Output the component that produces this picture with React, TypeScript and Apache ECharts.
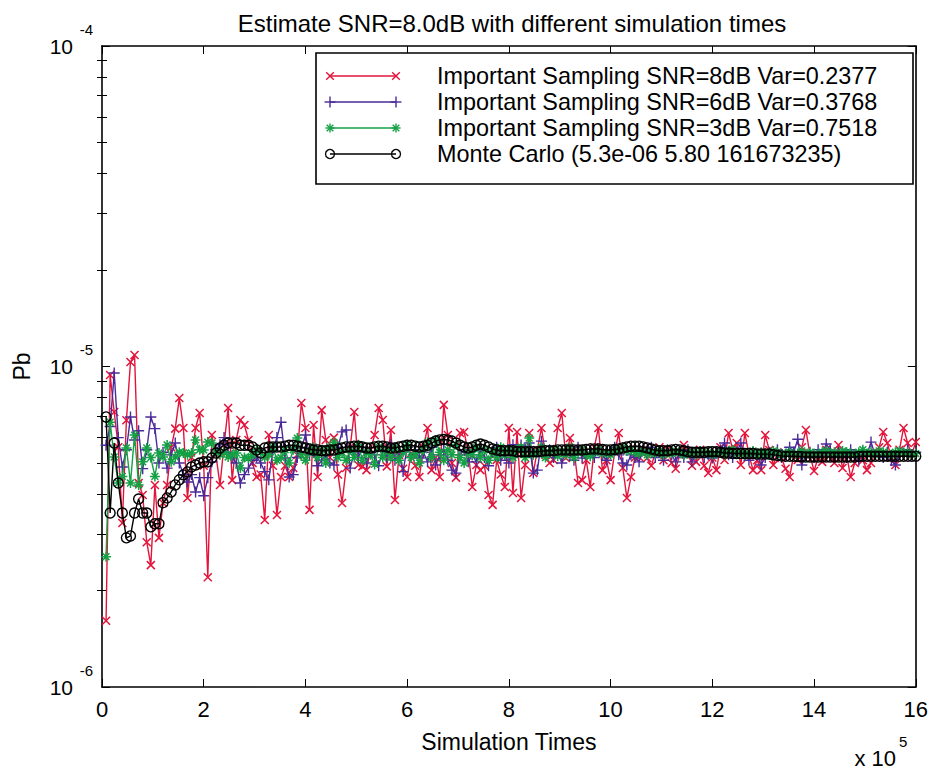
import React, { useEffect, useRef } from 'react';
import * as echarts from 'echarts';

// Simulation times: one sample every 8000 runs (x axis shown in units of 1e5)
const STEP = 8000;
const X_MAX = 1600000;
const X_INTERVAL = 200000;

// Pb values in units of 1e-6
const is8dB = [
  1.61, 9.41, 7.21, 5.6, 3.25, 6.8, 10.33, 10.86, 4.33, 3.97,
  2.83, 2.40, 4.27, 2.92, 3.75, 4.27, 5.6, 6.4, 7.97, 6.43,
  3.89, 5.2, 6.43, 7.16, 4.9, 2.20, 6.11, 5.3, 4.27, 5.7,
  7.42, 4.42, 5.9, 6.81, 6.57, 5.90, 5.0, 4.52, 4.6, 3.32,
  6.11, 4.9, 3.44, 4.52, 4.9, 4.52, 4.82, 5.3, 7.69, 6.43,
  3.57, 6.57, 4.52, 7.31, 5.90, 5.2, 6.0, 4.6, 3.75, 4.82,
  5.6, 7.21, 4.93, 4.88, 4.75, 5.5, 6.11, 7.42, 6.81, 4.88,
  6.34, 3.83, 5.30, 4.8, 4.52, 5.37, 4.9, 4.52, 5.6, 6.43,
  4.75, 5.2, 4.52, 7.59, 6.11, 5.0, 4.50, 6.20, 6.25, 5.42,
  4.21, 4.93, 4.75, 4.9, 3.97, 3.70, 5.11, 4.6, 4.21, 6.43,
  4.03, 6.25, 3.89, 4.93, 6.20, 4.65, 5.49, 6.43, 5.30, 5.0,
  5.11, 6.43, 7.16, 5.18, 5.98, 5.5, 4.33, 4.42, 5.11, 4.21,
  5.6, 6.43, 4.75, 5.1, 4.42, 5.4, 6.20, 4.82, 3.89, 4.52,
  5.2, 5.22, 5.5, 5.18, 4.9, 5.37, 5.6, 5.1, 5.5, 5.0,
  4.8, 5.3, 5.69, 5.4, 4.9, 5.04, 5.5, 4.9, 4.65, 5.2,
  4.75, 5.6, 5.11, 6.20, 5.5, 5.77, 4.93, 6.20, 5.30, 4.75,
  5.1, 4.75, 6.11, 5.49, 4.93, 5.4, 5.18, 4.8, 4.52, 5.3,
  5.11, 5.6, 6.34, 5.30, 4.72, 5.2, 5.04, 5.5, 5.30, 5.0,
  5.69, 4.82, 5.3, 4.52, 5.0, 5.37, 5.1, 4.75, 5.0, 5.37,
  5.6, 6.25, 5.77, 5.2, 4.93, 5.5, 6.43, 5.77, 5.3, 5.81,
];

const is6dB = [
  5.68, 6.5, 9.54, 6.0, 4.86, 5.5, 6.96, 5.90, 6.3, 4.80,
  5.5, 6.96, 6.4, 5.0, 5.4, 4.82, 5.3, 5.77, 5.0, 4.6,
  4.36, 4.6, 4.06, 4.5, 3.95, 4.5, 5.04, 5.5, 5.7, 6.0,
  5.4, 5.2, 5.0, 4.33, 4.6, 4.82, 5.1, 5.22, 5.0, 4.7,
  4.43, 5.5, 6.0, 6.7, 5.18, 4.52, 4.6, 5.2, 5.57, 6.11,
  5.3, 5.4, 4.9, 5.1, 5.3, 5.0, 4.93, 5.6, 6.25, 6.34,
  4.82, 5.4, 5.2, 5.6, 5.0, 5.4, 5.3, 4.9, 5.5, 5.2,
  5.7, 5.1, 5.3, 4.7, 5.6, 5.2, 5.5, 5.18, 5.4, 5.04,
  5.6, 4.93, 5.3, 5.49, 5.1, 4.75, 4.65, 5.3, 5.5, 5.04,
  5.3, 5.04, 5.5, 5.2, 4.9, 5.4, 5.6, 5.1, 5.3, 5.0,
  5.7, 5.4, 5.69, 5.49, 5.77, 4.65, 4.75, 5.85, 5.3, 5.5,
  5.2, 5.4, 5.0, 5.5, 5.3, 5.1, 5.6, 5.18, 5.3, 5.4,
  5.2, 5.5, 5.3, 5.1, 5.4, 5.6, 5.3, 5.0, 4.93, 5.3,
  5.2, 5.04, 5.5, 5.3, 5.6, 5.2, 5.4, 5.1, 5.5, 5.3,
  5.04, 5.4, 5.2, 5.5, 5.04, 5.3, 5.4, 5.2, 5.3, 5.18,
  5.4, 5.5, 5.77, 5.3, 5.2, 5.4, 5.77, 5.3, 5.1, 5.4,
  5.3, 4.93, 5.2, 5.4, 5.3, 5.5, 5.2, 5.3, 5.6, 5.4,
  5.93, 4.93, 5.3, 5.4, 5.2, 5.5, 5.3, 5.73, 5.49, 5.2,
  5.4, 5.3, 5.2, 5.5, 5.3, 5.1, 5.4, 5.3, 5.81, 5.3,
  5.3, 5.2, 5.4, 5.1, 4.93, 5.4, 5.37, 5.5, 5.3, 5.4,
];

const is3dB = [
  2.55, 6.7, 5.22, 4.33, 4.54, 5.57, 4.33, 6.11, 4.27, 5.04,
  5.57, 5.2, 4.54, 5.37, 5.22, 5.69, 5.04, 5.22, 5.4, 5.37,
  5.3, 5.37, 5.90, 5.5, 5.49, 5.81, 5.77, 5.4, 5.30, 5.42,
  5.22, 5.3, 5.37, 4.82, 5.2, 5.18, 5.30, 5.5, 5.4, 5.2,
  5.3, 5.6, 5.1, 5.2, 5.5, 5.0, 5.5, 5.98, 5.3, 5.1,
  5.4, 5.6, 5.2, 5.5, 5.0, 5.6, 5.8, 5.2, 5.4, 5.1,
  5.5, 5.2, 5.7, 5.1, 5.4, 5.3, 4.95, 5.6, 5.2, 5.5,
  5.2, 5.6, 5.1, 5.4, 5.7, 5.2, 5.35, 5.0, 5.5, 5.8,
  5.2, 5.9, 5.4, 5.1, 5.5, 5.3, 5.7, 5.2, 5.0, 5.4,
  5.3, 5.6, 5.2, 5.5, 5.1, 5.45, 5.2, 5.6, 5.3, 5.5,
  5.2, 5.5, 5.6, 5.2, 5.98, 5.3, 5.4, 5.6, 5.2, 5.4,
  5.5, 5.25, 5.45, 5.3, 5.6, 5.2, 5.4, 5.5, 5.3, 5.25,
  5.4, 5.5, 5.35, 5.4, 5.3, 5.45, 5.5, 5.6, 5.45, 5.5,
  5.4, 5.35, 5.45, 5.3, 5.4, 5.35, 5.45, 5.3, 5.4, 5.35,
  5.45, 5.4, 5.3, 5.35, 5.4, 5.3, 5.45, 5.35, 5.4, 5.3,
  5.35, 5.4, 5.3, 5.45, 5.5, 5.35, 5.4, 5.3, 5.35, 5.45,
  5.3, 5.4, 5.35, 5.3, 5.45, 5.4, 5.3, 5.35, 5.4, 5.3,
  5.35, 5.45, 5.3, 5.4, 5.35, 5.3, 5.4, 5.45, 5.35, 5.4,
  5.3, 5.45, 5.4, 5.35, 5.3, 5.4, 5.5, 5.35, 5.4, 5.3,
  5.45, 5.4, 5.35, 5.3, 5.4, 5.45, 5.35, 5.4, 5.3, 5.35,
];

const monteCarlo = [
  6.96, 3.49, 5.77, 4.33, 3.49, 2.92, 2.96, 3.49, 3.86, 3.49,
  3.49, 3.16, 3.23, 3.23, 3.76, 3.89, 4.06, 4.27, 4.43, 4.59,
  4.69, 4.86, 4.93, 5.00, 5.04, 5.04, 5.18, 5.37, 5.57, 5.68,
  5.77, 5.77, 5.77, 5.68, 5.68, 5.68, 5.61, 5.49, 5.37, 5.57,
  5.61, 5.61, 5.61, 5.61, 5.64, 5.68, 5.68, 5.64, 5.61, 5.57,
  5.53, 5.49, 5.49, 5.46, 5.46, 5.49, 5.49, 5.53, 5.57, 5.61,
  5.61, 5.64, 5.64, 5.61, 5.57, 5.57, 5.61, 5.64, 5.64, 5.61,
  5.57, 5.57, 5.61, 5.64, 5.68, 5.68, 5.64, 5.61, 5.64, 5.68,
  5.77, 5.85, 5.90, 5.92, 5.90, 5.85, 5.77, 5.68, 5.61, 5.57,
  5.61, 5.68, 5.73, 5.68, 5.61, 5.53, 5.49, 5.46, 5.46, 5.46,
  5.46, 5.42, 5.42, 5.42, 5.42, 5.42, 5.42, 5.44, 5.46, 5.46,
  5.46, 5.49, 5.49, 5.49, 5.49, 5.49, 5.49, 5.49, 5.51, 5.53,
  5.53, 5.53, 5.51, 5.49, 5.49, 5.51, 5.53, 5.57, 5.61, 5.64,
  5.64, 5.64, 5.61, 5.57, 5.53, 5.49, 5.46, 5.46, 5.46, 5.49,
  5.51, 5.49, 5.46, 5.42, 5.40, 5.40, 5.40, 5.40, 5.42, 5.42,
  5.42, 5.40, 5.37, 5.37, 5.35, 5.35, 5.35, 5.35, 5.35, 5.35,
  5.33, 5.33, 5.33, 5.33, 5.30, 5.28, 5.26, 5.25, 5.25, 5.25,
  5.24, 5.23, 5.22, 5.22, 5.22, 5.22, 5.22, 5.22, 5.22, 5.22,
  5.22, 5.22, 5.22, 5.22, 5.22, 5.24, 5.25, 5.25, 5.25, 5.25,
  5.25, 5.25, 5.25, 5.25, 5.25, 5.25, 5.25, 5.25, 5.25, 5.25,
];

const seriesNames = [
  'Important Sampling SNR=8dB Var=0.2377',
  'Important Sampling SNR=6dB Var=0.3768',
  'Important Sampling SNR=3dB Var=0.7518',
  'Monte Carlo (5.3e-06 5.80 161673235)',
];

const Y_MIN = 1e-6;
const Y_MAX = 1e-4;
const majorTicks = [1e-6, 1e-5, 1e-4];
const minorTicks = [
  2e-6, 3e-6, 4e-6, 5e-6, 6e-6, 7e-6, 8e-6, 9e-6,
  2e-5, 3e-5, 4e-5, 5e-5, 6e-5, 7e-5, 8e-5, 9e-5,
];

const RED = '#e3143b';
const PURPLE = '#4a2a98';
const GREEN = '#14a044';
const BLACK = '#000000';
const FONT = '"Liberation Sans", Arial, Helvetica, sans-serif';

const SYM_X = 'path://M0,0L10,10M10,0L0,10';
const SYM_PLUS = 'path://M5,0L5,10M0,5L10,5';
const SYM_STAR = 'path://M5,0L5,10M0,5L10,5M1.6,1.6L8.4,8.4M8.4,1.6L1.6,8.4';

function toPoints(vals: number[]) {
  return vals.map((v, i) => [(i + 1) * STEP, v * 1e-6]);
}

function legendMarker(kind: string, cx: number, cy: number, color: string): any[] {
  const ls = { stroke: color, lineWidth: 1.4 };
  const ln = (x1: number, y1: number, x2: number, y2: number) => ({
    type: 'line', shape: { x1, y1, x2, y2 }, style: ls,
  });
  if (kind === 'x') {
    const h = 3.8;
    return [ln(cx - h, cy - h, cx + h, cy + h), ln(cx + h, cy - h, cx - h, cy + h)];
  }
  if (kind === '+') {
    const h = 5.5;
    return [ln(cx - h, cy, cx + h, cy), ln(cx, cy - h, cx, cy + h)];
  }
  if (kind === '*') {
    const h = 4.6;
    const d = 3.3;
    return [
      ln(cx - h, cy, cx + h, cy), ln(cx, cy - h, cx, cy + h),
      ln(cx - d, cy - d, cx + d, cy + d), ln(cx + d, cy - d, cx - d, cy + d),
    ];
  }
  return [{ type: 'circle', shape: { cx, cy, r: 4.5 }, style: { stroke: color, fill: 'none', lineWidth: 1.3 } }];
}

export default function App() {
  const ref = useRef<HTMLDivElement>(null);

  useEffect(() => {
    if (!ref.current) return;
    const chart = echarts.init(ref.current, null, { renderer: 'svg' });

    const axisLine = { show: true, onZero: false, lineStyle: { color: BLACK, width: 1.6 } };
    const logBase = { type: 'log', logBase: 10, min: Y_MIN, max: Y_MAX, splitLine: { show: false } };

    const legendRows = [
      { name: seriesNames[0], color: RED, kind: 'x', y: 76 },
      { name: seriesNames[1], color: PURPLE, kind: '+', y: 102 },
      { name: seriesNames[2], color: GREEN, kind: '*', y: 128 },
      { name: seriesNames[3], color: BLACK, kind: 'o', y: 154 },
    ];
    const legendEls: any[] = [
      {
        type: 'rect', shape: { x: 316, y: 53, width: 597, height: 131 },
        style: { fill: '#fff', stroke: BLACK, lineWidth: 1.6 }, z: 100,
      },
    ];
    legendRows.forEach((r) => {
      legendEls.push({ type: 'line', shape: { x1: 330, y1: r.y, x2: 396, y2: r.y }, style: { stroke: r.color, lineWidth: 1.4 }, z: 101 });
      legendMarker(r.kind, 330, r.y, r.color).forEach((e) => legendEls.push({ ...e, z: 101 }));
      legendMarker(r.kind, 396, r.y, r.color).forEach((e) => legendEls.push({ ...e, z: 101 }));
      legendEls.push({
        type: 'text', x: 437, y: r.y, z: 101,
        style: { text: r.name, fill: BLACK, font: `23.4px ${FONT}`, verticalAlign: 'middle', align: 'left' },
      });
    });

    const option: any = {
      animation: false,
      backgroundColor: '#ffffff',
      textStyle: { fontFamily: FONT, color: BLACK },
      title: {
        text: 'Estimate SNR=8.0dB with different simulation times',
        left: 507, top: 6, textAlign: 'center',
        textStyle: { fontSize: 24, fontWeight: 'normal', color: BLACK, fontFamily: FONT },
      },
      grid: { left: 102, right: 14, top: 46, bottom: 85 },
      xAxis: [
        {
          type: 'value', position: 'bottom', min: 0, max: X_MAX, interval: X_INTERVAL,
          axisLine,
          axisTick: { show: true, inside: true, length: 8, lineStyle: { color: BLACK, width: 1 } },
          axisLabel: { show: true, margin: 11, fontSize: 22, color: BLACK, fontFamily: FONT, formatter: (v: number) => String(Math.round(v / 1e5)) },
          splitLine: { show: false },
          name: 'Simulation Times', nameLocation: 'middle', nameGap: 43,
          nameTextStyle: { fontSize: 23, color: BLACK, fontFamily: FONT },
        },
        {
          type: 'value', position: 'top', min: 0, max: X_MAX, interval: X_INTERVAL,
          axisLine,
          axisTick: { show: true, inside: true, length: 8, lineStyle: { color: BLACK, width: 1 } },
          axisLabel: { show: false },
          splitLine: { show: false },
        },
      ],
      yAxis: [
        {
          ...logBase, position: 'left',
          axisLine,
          axisTick: { show: true, inside: true, length: 8, lineStyle: { color: BLACK, width: 1 } },
          axisLabel: { show: true, margin: 29, fontSize: 21, color: BLACK, fontFamily: FONT, formatter: () => '10' },
          name: 'Pb', nameLocation: 'middle', nameGap: 69, nameRotate: 90,
          nameTextStyle: { fontSize: 23, color: BLACK, fontFamily: FONT },
        },
        {
          ...logBase, position: 'left',
          axisLine: { show: false },
          axisTick: { show: true, inside: true, length: 5, customValues: minorTicks, lineStyle: { color: BLACK, width: 1 } },
          axisLabel: { show: false },
        },
        {
          ...logBase, position: 'right',
          axisLine,
          axisTick: { show: true, inside: true, length: 8, lineStyle: { color: BLACK, width: 1 } },
          axisLabel: { show: false },
        },
        {
          ...logBase, position: 'right',
          axisLine: { show: false },
          axisTick: { show: true, inside: true, length: 5, customValues: minorTicks, lineStyle: { color: BLACK, width: 1 } },
          axisLabel: { show: false },
        },
      ],
      series: [
        {
          name: seriesNames[0], type: 'line', xAxisIndex: 0, yAxisIndex: 0,
          data: toPoints(is8dB), symbol: SYM_X, symbolSize: 8,
          itemStyle: { color: RED, borderColor: RED, borderWidth: 1.5 },
          lineStyle: { color: RED, width: 1.4 }, z: 2,
        },
        {
          name: seriesNames[1], type: 'line', xAxisIndex: 0, yAxisIndex: 0,
          data: toPoints(is6dB), symbol: SYM_PLUS, symbolSize: 11,
          itemStyle: { color: PURPLE, borderColor: PURPLE, borderWidth: 1.4 },
          lineStyle: { color: PURPLE, width: 1.4 }, z: 3,
        },
        {
          name: seriesNames[2], type: 'line', xAxisIndex: 0, yAxisIndex: 0,
          data: toPoints(is3dB), symbol: SYM_STAR, symbolSize: 10,
          itemStyle: { color: GREEN, borderColor: GREEN, borderWidth: 1.5 },
          lineStyle: { color: GREEN, width: 1.4 }, z: 4,
        },
        {
          name: seriesNames[3], type: 'line', xAxisIndex: 0, yAxisIndex: 0,
          data: toPoints(monteCarlo), symbol: 'circle', symbolSize: 10,
          itemStyle: { color: 'rgba(0,0,0,0)', borderColor: BLACK, borderWidth: 1.4 },
          lineStyle: { color: BLACK, width: 1.4 }, z: 5,
        },
      ],
      graphic: [
        ...legendEls,
        {
          type: 'text', x: 896, y: 758, z: 101,
          style: { text: 'x 10', fill: BLACK, font: `22px ${FONT}`, align: 'right', verticalAlign: 'middle' },
        },
        {
          type: 'text', x: 899, y: 741, z: 101,
          style: { text: '5', fill: BLACK, font: `15px ${FONT}`, align: 'left', verticalAlign: 'middle' },
        },
      ],
    };

    chart.setOption(option);

    // Superscript exponents of the decade labels, placed through the y axis scale
    const expEls = majorTicks.map((v) => {
      const y = chart.convertToPixel({ yAxisIndex: 0 }, v) as number;
      return {
        type: 'text', x: 93, y: y - 17, z: 101,
        style: {
          text: String(Math.round(Math.log10(v))), fill: BLACK,
          font: `15px ${FONT}`, align: 'right', verticalAlign: 'middle',
        },
      };
    });
    chart.setOption({ graphic: [...option.graphic, ...expEls] });

    return () => chart.dispose();
  }, []);

  return (
    <div
      ref={ref}
      style={{ position: 'fixed', left: 0, top: 0, width: 931, height: 772, background: '#fff' }}
    />
  );
}
